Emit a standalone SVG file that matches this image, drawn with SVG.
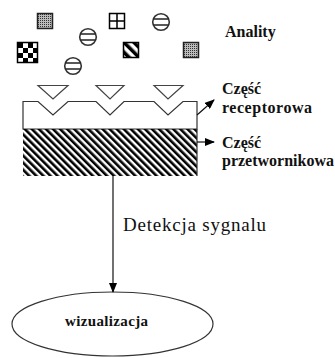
<svg xmlns="http://www.w3.org/2000/svg" width="335" height="358" viewBox="0 0 335 358">
<style>
.lbl{font-family:"Liberation Serif","Times New Roman","Noto Serif","DejaVu Serif",serif;font-weight:bold;font-size:16px;fill:#111}
.reg{font-family:"Liberation Serif","Times New Roman","Noto Serif","DejaVu Serif",serif;font-size:19px;fill:#111}
.ln{stroke:#111;stroke-width:1.2;fill:none}
.circ{fill:#fff;stroke:#333;stroke-width:1.6}
.tri{fill:#fff;stroke:#444;stroke-width:1.2}
</style>
<defs>
<pattern id="hatch" patternUnits="userSpaceOnUse" width="5" height="5" patternTransform="rotate(-45)">
<rect x="0" y="0" width="2.6" height="5" fill="#000"/>
</pattern>
<pattern id="stripe" patternUnits="userSpaceOnUse" width="7" height="7" patternTransform="rotate(-45)">
<rect x="0" y="0" width="3.5" height="7" fill="#000"/>
</pattern>
<pattern id="dots" patternUnits="userSpaceOnUse" width="2" height="2">
<rect width="2" height="2" fill="#bbb"/>
<rect width="1" height="1" fill="#333"/>
</pattern>
<marker id="ah" markerWidth="10" markerHeight="8" refX="9" refY="4" orient="auto" markerUnits="userSpaceOnUse">
<path d="M0,0 L10,4 L0,8 Z" fill="#000"/>
</marker>
</defs>

<g id="analytes">
<rect x="37.5" y="13.5" width="15" height="15" fill="url(#dots)" stroke="#222" stroke-width="1.5"/>
<g id="checker">
<rect x="17.5" y="42.5" width="20" height="20" fill="#fff" stroke="#000" stroke-width="1.5"/>
<path d="M18,43h5v5h-5z M28,43h5v5h-5z M23,48h5v5h-5z M33,48h4.5v5h-4.5z M18,53h5v5h-5z M28,53h5v5h-5z M23,58h5v4.5h-5z M33,58h4.5v4.5h-4.5z" fill="#000"/>
</g>
<g id="grid">
<rect x="109.5" y="13.5" width="15" height="15" fill="#fff" stroke="#000" stroke-width="1.5"/>
<path d="M117,13.5V28.5M109.5,21H124.5" stroke="#000" stroke-width="1.5"/>
</g>
<rect x="123.5" y="42.5" width="15" height="15" fill="url(#stripe)" stroke="#000" stroke-width="1.5"/>
<rect x="183.5" y="42.5" width="15" height="15" fill="url(#dots)" stroke="#222" stroke-width="1.5"/>
<g id="c1"><circle cx="161" cy="22" r="8.3" class="circ"/><path d="M153.5,19H168.5M153.5,25H168.5" stroke="#222" stroke-width="1.6"/></g>
<g id="c2"><circle cx="88" cy="37" r="8.3" class="circ"/><path d="M80.5,34H95.5M80.5,40H95.5" stroke="#222" stroke-width="1.6"/></g>
<g id="c3"><circle cx="73" cy="66" r="8.3" class="circ"/><path d="M65.5,63H80.5M65.5,69H80.5" stroke="#222" stroke-width="1.6"/></g>
</g>

<g id="receptors">
<path class="tri" d="M38,85.5H68L53,99Z"/>
<path class="tri" d="M96,85.5H124L110,99Z"/>
<path class="tri" d="M154,85.5H183L168,99Z"/>
</g>

<g id="receptor-part">
<path d="M23,101.5H38L53,115L68,101.5H96L110,115L124,101.5H154L168,115L183,101.5H197V129H23Z" fill="#fff" stroke="#333" stroke-width="1.2"/>
</g>

<g id="transducer-part">
<rect x="23" y="129" width="174" height="47" fill="url(#hatch)"/>
<path d="M197,129V176" stroke="#333" stroke-width="1.2"/>
</g>

<g id="visualization">
<ellipse cx="112.5" cy="324" rx="100.5" ry="32" fill="#fff" stroke="#333" stroke-width="1.2"/>
<text class="lbl" x="65" y="326" style="font-size:15px" textLength="83" lengthAdjust="spacing">wizualizacja</text>
</g>

<g id="connectors">
<path class="ln" d="M197,115L214,100" marker-end="url(#ah)"/>
<path class="ln" d="M197,142H214" marker-end="url(#ah)"/>
<path class="ln" d="M113,176V292" marker-end="url(#ah)"/>
</g>

<g id="labels">
<text class="lbl" x="225" y="37">Anality</text>
<text class="lbl" x="222" y="94">Część</text>
<text class="lbl" x="222" y="113" textLength="90" lengthAdjust="spacing">receptorowa</text>
<text class="lbl" x="222" y="148">Część</text>
<text class="lbl" x="222" y="166" textLength="112" lengthAdjust="spacing">przetwornikowa</text>
<text class="reg" x="123" y="231" textLength="143" lengthAdjust="spacing">Detekcja sygnalu</text>
</g>
</svg>
